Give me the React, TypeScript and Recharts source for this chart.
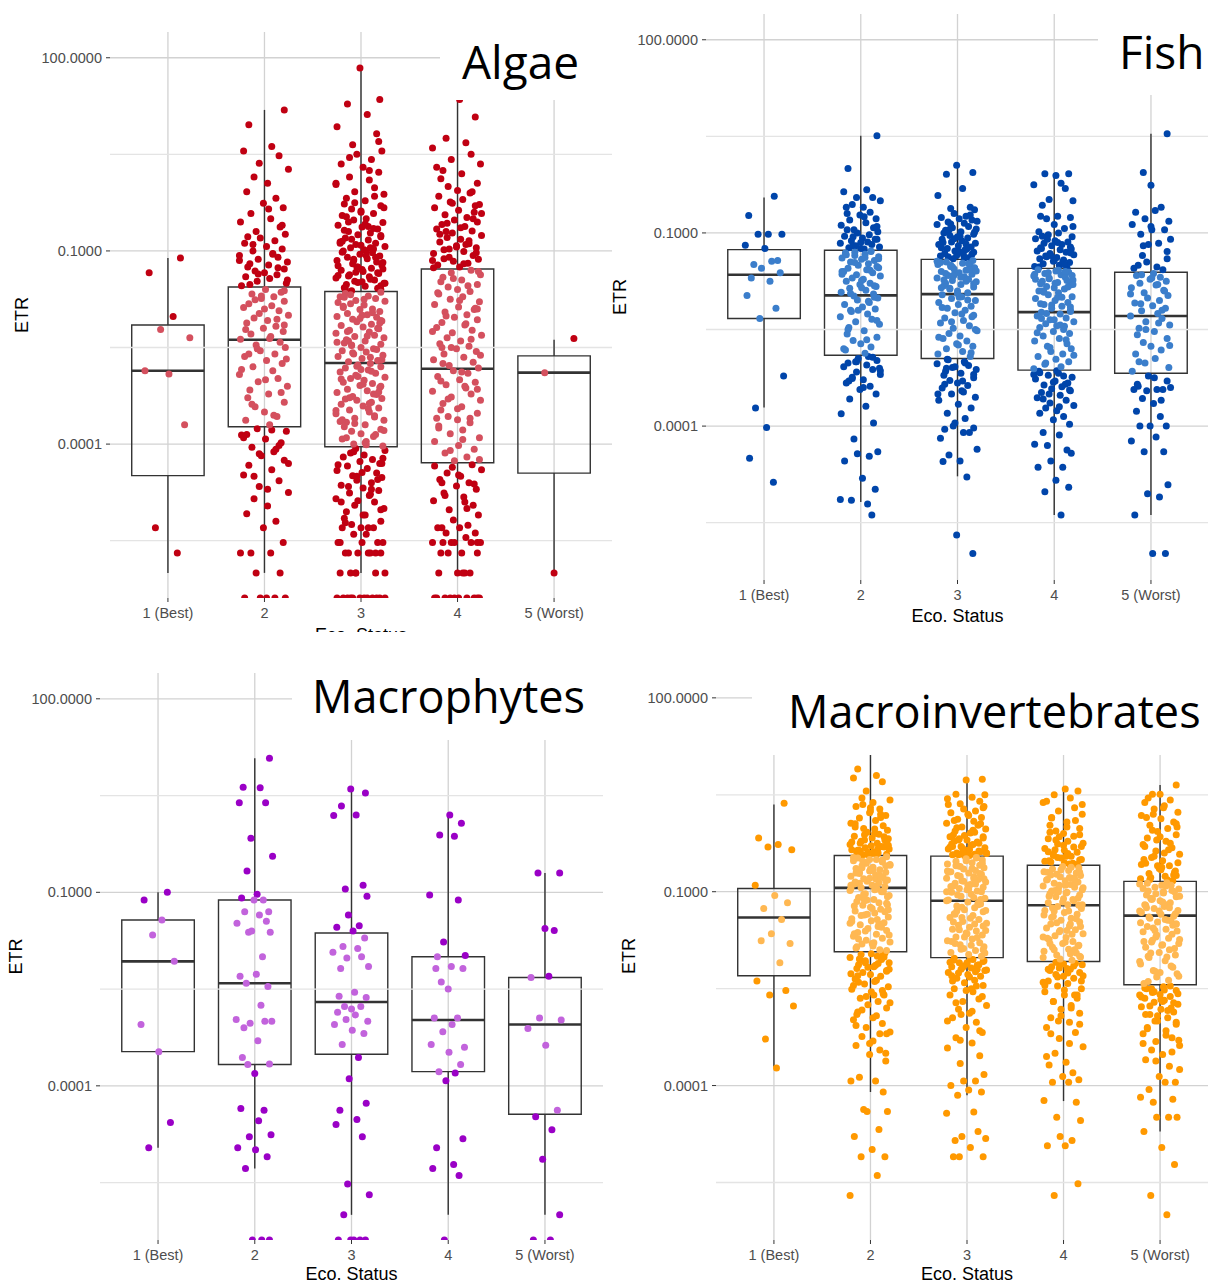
import React from "react";
import {
  CartesianGrid,
  ComposedChart,
  ReferenceArea,
  ReferenceLine,
  Scatter,
  XAxis,
  YAxis
} from "recharts";

// categories and axis ticks
const statusLabels = ["1 (Best)", "2", "3", "4", "5 (Worst)"];
const statusTicks = [1, 2, 3, 4, 5];
const yTicks = [2, -1, -4]; // log10 of 100, 0.1, 0.0001
const minorLines = [0.5, -2.5, -5.5];
const Y_MIN = -6.39;
const Y_MAX = 2.4;

// hand-picked horizontal jitter (in category units)
const jitter = [
  0.12, -0.18, 0.05, -0.07, 0.21, -0.22, 0.01, 0.16, -0.12, 0.09, -0.03, 0.19, -0.15, 0.07, -0.2, 0.14,
  -0.05, 0.23, -0.1, 0.03, -0.17, 0.11, -0.01, 0.18, -0.13, 0.06, -0.23, 0.15, -0.08, 0.2, -0.04, 0.1,
  -0.19, 0.02, 0.17, -0.11, 0.08, -0.24, 0.13, -0.06, 0.22, -0.14, 0.04, -0.16, 0.19, -0.09, 0.0
];

// ---- ETR values, stored as log10(ETR) ----

// Algae
const algae1 = [-1.11, -1.34, -2.02, -2.22, -2.35, -2.86, -2.91, -3.7, -5.3, -5.69];
const algae2 = [
  1.19, 0.96, 0.62, 0.55, 0.48, 0.36, 0.27, 0.15, 0.05, -0.08, -0.18, -0.26, -0.33, -0.42, -0.5, -0.55,
  -0.63, -0.7, -0.74, -0.8, -0.84, -0.88, -0.93, -0.97, -1.0, -1.04, -1.07, -1.1, -1.13, -1.17, -1.2,
  -1.22, -1.25, -1.28, -1.31, -1.34, -1.37, -1.4, -1.43, -1.47, -1.5, -1.54,
  -1.6, -1.64, -1.67, -1.71, -1.74, -1.78, -1.82, -1.85, -1.88, -1.93, -1.97, -2.0, -2.04, -2.08, -2.12,
  -2.17, -2.2, -2.25, -2.29, -2.33, -2.37, -2.42, -2.46, -2.5, -2.55, -2.6, -2.64, -2.7, -2.75, -2.8,
  -2.86, -2.92, -2.98, -3.03, -3.1, -3.16, -3.22, -3.28, -3.35, -3.42, -3.5, -3.57, -3.63, -3.7,
  -3.76, -3.8, -3.86, -3.92, -3.98, -4.05, -4.12, -4.18, -4.25, -4.33, -4.4, -4.48, -4.57, -4.66, -4.75,
  -4.85, -4.96, -5.08, -5.2, -5.3, -5.53, -5.69, -5.69, -5.69, -6.0, -6.0, -6.39, -6.39, -6.39, -6.39, -6.39,
  -0.6, -0.9, -1.05, -1.15, -1.26, -1.36, -1.45, -1.52, -0.35, -0.78, -1.62, -1.76, -1.9, -2.06, -2.22,
  -2.36, -2.52, -2.68, -2.84, -3.0, -3.2, -3.38, -3.55, -1.7, -2.15, -2.6, -3.78, -3.9, -4.02, -4.15, -4.3,
  -4.5, -4.7, -3.85, -4.08
];
const algae3 = [
  1.84, 1.35, 1.28, 1.12, 0.93, 0.82, 0.65, 0.55, 0.5, 0.42, 0.35, 0.3, 0.22, 0.15, 0.1, 0.03, -0.02,
  -0.08, -0.12, -0.18, -0.22, -0.27, -0.3, -0.35, -0.38, -0.42, -0.45, -0.5, -0.52, -0.56, -0.6, -0.63,
  -0.66, -0.7, -0.72, -0.75, -0.78, -0.8, -0.83, -0.86, -0.88, -0.9, -0.93, -0.95, -0.98, -1.0, -1.03,
  -1.05, -1.08, -1.1, -1.12, -1.15, -1.17, -1.2, -1.22, -1.25, -1.27, -1.3, -1.32, -1.35, -1.37, -1.4,
  -1.42, -1.45, -1.47, -1.5, -1.52, -1.55, -1.57, -1.6, -1.62, -0.4, -0.65, -0.85, -1.0, -1.15, -1.28,
  -1.38, -1.48, -1.58, -0.55, -0.95, -1.25,
  -1.64, -1.66, -1.7, -1.71, -1.74, -1.77, -1.78, -1.82, -1.84, -1.86, -1.9, -1.91, -1.94, -1.97, -1.99,
  -2.02, -2.03, -2.06, -2.09, -2.1, -2.14, -2.16, -2.18, -2.21, -2.23, -2.26, -2.28, -2.31, -2.33, -2.35,
  -2.38, -2.4, -2.43, -2.45, -2.47, -2.5, -2.52, -2.55, -2.57, -2.6, -2.62, -2.64, -2.67, -2.7, -2.72,
  -2.75, -2.77, -2.8, -2.82, -2.85, -2.88, -2.9, -2.93, -2.96, -2.98, -3.01, -3.04, -3.06, -3.09, -3.12,
  -3.15, -3.17, -3.2, -3.23, -3.26, -3.29, -3.32, -3.35, -3.38, -3.41, -3.44, -3.47, -3.5, -3.53, -3.56,
  -3.6, -3.63, -3.66, -3.7, -3.73, -3.77, -3.8, -3.84, -3.88, -3.92, -3.96, -4.0, -4.03, -1.8, -2.0, -2.2,
  -2.4, -2.65, -2.95, -3.1, -3.3, -3.45, -3.65, -3.85,
  -4.07, -4.1, -4.14, -4.17, -4.2, -4.24, -4.27, -4.3, -4.34, -4.38, -4.41, -4.45, -4.49, -4.52, -4.56,
  -4.6, -4.64, -4.68, -4.72, -4.76, -4.8, -4.85, -4.9, -4.95, -5.0, -5.05, -5.1, -5.15, -5.2, -5.25, -5.3,
  -5.3, -5.3, -5.4, -5.4, -5.53, -5.53, -5.53, -5.53, -5.69, -5.69, -5.69, -5.69, -5.69, -5.69, -6.0,
  -6.0, -6.0, -6.0, -6.0, -6.39, -6.39, -6.39, -6.39, -6.39, -6.39, -6.39, -6.39, -6.39, -6.39, -4.3,
  -4.5, -4.7, -4.9, -5.1,
  0.7, 0.45, 0.25, 0.05, -0.15, -0.25, -0.33, -0.47, -0.58, -0.68, -0.76, -0.82, -0.91, -0.97, -1.02,
  -1.07, -1.13, -1.18, -1.23, -1.29, -1.34, -1.39, -1.44, -1.49, -1.54, -1.59, -0.62, -0.88, -1.1, -1.33,
  -1.5, -1.68, -1.75, -1.88, -1.96, -2.05, -2.12, -2.25, -2.32, -2.42, -2.53, -2.58, -2.69, -2.79, -2.87,
  -2.99, -3.07, -3.19, -3.28, -3.37, -3.48, -3.58, -3.68, -3.79, -3.9, -3.98, -1.72, -2.08, -2.46, -2.84,
  -3.22, -3.62, -4.01, -4.12, -4.22, -4.32, -4.44, -4.55, -4.66, -4.78, -4.88, -5.02, -5.22, -5.3, -5.53,
  -5.69, -6.0, -6.39, -6.39
];
const algae4 = [
  1.35, 1.08, 0.75, 0.68, 0.6, 0.5, 0.42, 0.35, 0.25, 0.2, 0.12, 0.05, 0.0, -0.06, -0.1, -0.15, -0.2,
  -0.24, -0.28, -0.33, -0.37, -0.4, -0.44, -0.48, -0.52, -0.55, -0.59, -0.62, -0.66, -0.69, -0.72, -0.76,
  -0.79, -0.82, -0.86, -0.89, -0.92, -0.95, -0.98, -1.01, -1.04, -1.07, -1.1, -1.13, -1.16, -1.19, -1.22,
  -1.25, -0.3, -0.7, -0.9, -1.15,
  -1.3, -1.34, -1.37, -1.41, -1.45, -1.48, -1.52, -1.56, -1.6, -1.63, -1.67, -1.71, -1.75, -1.79, -1.83,
  -1.87, -1.91, -1.95, -1.99, -2.03, -2.07, -2.11, -2.15, -2.19, -2.23, -2.27, -2.31, -2.35, -2.4, -2.44,
  -2.48, -2.52, -2.56, -2.6, -2.65, -2.69, -2.73, -2.78, -2.82, -2.86, -2.9, -2.95, -3.0, -3.04, -3.08,
  -3.13, -3.18, -3.22, -3.27, -3.32, -3.37, -3.42, -3.47, -3.52, -3.57, -3.62, -3.67, -3.72, -3.78, -3.84,
  -3.9, -3.96, -4.02, -4.08, -4.14, -4.2, -4.26, -1.9, -2.5, -3.1, -3.6,
  -4.32, -4.36, -4.4, -4.45, -4.5, -4.55, -4.6, -4.65, -4.7, -4.76, -4.82, -4.88, -4.95, -5.02, -5.1,
  -5.18, -5.26, -5.3, -5.3, -5.38, -5.38, -5.45, -5.53, -5.53, -5.53, -5.53, -5.53, -5.69, -5.69, -5.69,
  -5.69, -6.0, -6.0, -6.0, -6.0, -6.39, -6.39, -6.39, -6.39, -6.39, -6.39, -6.39, -6.39, -6.39, -4.6, -4.9,
  0.3, -0.08, -0.26, -0.42, -0.57, -0.64, -0.74, -0.84, -0.94, -1.03, -1.12, -1.2, -1.26, -0.5, -0.97,
  -1.32, -1.43, -1.54, -1.65, -1.77, -1.89, -2.01, -2.13, -2.25, -2.37, -2.5, -2.62, -2.75, -2.88, -3.02,
  -3.15, -3.3, -3.45, -3.6, -3.75, -3.93, -4.1, -4.24, -4.34, -4.48, -4.62, -4.8, -5.0, -5.53, -5.53,
  -5.3, -6.0, -6.39
];
const algae5 = [-2.36, -2.89, -6.0];
// [lower whisker, Q1, median, Q3, upper whisker]
const algaeBox = [
  [-6.0, -4.49, -2.86, -2.15, -1.11],
  [-6.0, -3.73, -2.38, -1.56, 1.19],
  [-6.0, -4.04, -2.74, -1.63, 1.84],
  [-6.0, -4.29, -2.83, -1.28, 1.32],
  [-6.0, -4.45, -2.89, -2.63, -2.38]
];

// Fish
const fish1 = [
  -0.43, -0.73, -1.02, -1.02, -1.02, -1.19, -1.24, -1.43, -1.49, -1.44, -1.55, -1.62, -1.7, -1.75, -1.97,
  -2.17, -2.33, -3.22, -3.72, -4.02, -4.5, -4.87
];
const fish2 = [
  0.51, 0.0, -0.33, -0.36, -0.45, -0.45, -0.5, -0.56, -0.6, -0.6, -0.68, -0.72, -0.78, -0.8, -0.84, -0.88,
  -0.92, -0.95, -0.98, -1.0, -1.03, -1.05, -1.08, -1.1, -1.12, -1.14, -1.16, -1.18, -1.2, -1.22, -1.23,
  -1.25, -0.7, -0.9, -1.06, -1.15,
  -1.29, -1.31, -1.33, -1.35, -1.37, -1.39, -1.41, -1.43, -1.45, -1.48, -1.5, -1.52, -1.55, -1.57, -1.6,
  -1.62, -1.65, -1.67, -1.7, -1.72, -1.75, -1.78, -1.8, -1.83, -1.86, -1.89, -1.92, -1.95, -1.98, -2.01,
  -2.04, -2.08, -2.11, -2.15, -2.18, -2.22, -2.26, -2.3, -2.34, -2.38, -2.42, -2.47, -2.52, -2.57, -2.62,
  -2.67, -2.72, -2.77, -2.82, -2.87, -1.3, -1.4, -1.6, -1.85, -2.0, -2.2,
  -2.92, -2.95, -2.98, -3.02, -3.05, -3.08, -3.12, -3.16, -3.2, -3.24, -3.28, -3.33, -3.38, -3.43, -3.5,
  -3.58, -3.69, -3.81, -3.95, -4.2, -4.4, -4.43, -4.47, -4.54, -4.81, -4.98, -5.15, -5.21, -5.14, -5.38,
  -3.0, -3.1, -3.3,
  -0.75, -0.95, -1.1, -1.2, -1.24, -1.28, -1.32, -1.38, -1.46, -1.54, -1.64, -1.74, -1.82, -1.94, -2.06,
  -2.2, -2.36, -2.5, -2.66, -2.8, -2.93, -3.0, -3.14, -3.26, -3.4, -1.34, -1.58
];
const fish3 = [
  0.05, -0.06, -0.09, -0.31, -0.42, -0.6, -0.62, -0.64, -0.7, -0.74, -0.76, -0.78, -0.8, -0.83, -0.85,
  -0.87, -0.9, -0.92, -0.94, -0.96, -0.98, -1.0, -1.02, -1.04, -1.06, -1.08, -1.1, -1.12, -1.14, -1.16,
  -1.18, -1.2, -1.22, -1.24, -1.26, -1.28, -1.3, -1.32, -1.34, -1.36, -1.38, -1.4, -0.82, -0.95, -1.05,
  -1.15, -1.25, -1.35,
  -1.43, -1.45, -1.47, -1.49, -1.5, -1.52, -1.54, -1.56, -1.58, -1.6, -1.62, -1.64, -1.66, -1.68, -1.7,
  -1.72, -1.74, -1.76, -1.78, -1.8, -1.82, -1.84, -1.87, -1.9, -1.93, -1.96, -1.99, -2.02, -2.05, -2.08,
  -2.11, -2.14, -2.17, -2.2, -2.24, -2.28, -2.32, -2.36, -2.4, -2.44, -2.48, -2.52, -2.56, -2.6, -2.64,
  -2.68, -2.72, -2.76, -2.8, -2.84, -2.88, -2.92, -1.5, -1.55, -1.65, -1.75, -1.85, -2.0, -2.3,
  -2.97, -3.0, -3.03, -3.06, -3.09, -3.12, -3.15, -3.18, -3.21, -3.25, -3.29, -3.33, -3.37, -3.41, -3.45,
  -3.5, -3.55, -3.6, -3.66, -3.72, -3.8, -3.88, -3.95, -4.03, -4.05, -4.1, -4.19, -4.1, -4.0, -4.36, -4.45,
  -4.54, -4.55, -4.79, -5.69, -5.98, -3.1, -3.3, -3.5,
  -0.72, -0.86, -0.99, -1.09, -1.17, -1.23, -1.29, -1.33, -1.37, -1.39, -1.44, -1.48, -1.53, -1.59, -1.63,
  -1.69, -1.73, -1.79, -1.86, -1.94, -2.04, -2.16, -2.26, -2.38, -2.5, -2.62, -2.74, -2.86, -2.96, -3.02,
  -3.08, -3.2, -3.35, -3.47, -1.46, -1.57, -1.67
];
const fish4 = [
  -0.11, -0.08, -0.08, -0.23, -0.25, -0.31, -0.48, -0.5, -0.57, -0.74, -0.74, -0.76, -0.78, -0.87, -0.93,
  -0.98, -1.0, -1.03, -1.06, -1.09, -1.12, -1.14, -1.16, -1.18, -1.2, -1.22, -1.24, -1.26, -1.28, -1.3,
  -1.32, -1.34, -1.36, -1.38, -1.4, -1.42, -1.44, -1.46, -1.48, -1.5, -1.52, -1.54, -1.1, -1.25, -1.35,
  -1.45,
  -1.57, -1.59, -1.61, -1.63, -1.65, -1.67, -1.69, -1.71, -1.73, -1.75, -1.77, -1.79, -1.81, -1.83, -1.85,
  -1.87, -1.9, -1.93, -1.96, -1.99, -2.02, -2.05, -2.08, -2.11, -2.14, -2.17, -2.2, -2.23, -2.26, -2.29,
  -2.32, -2.35, -2.38, -2.41, -2.44, -2.47, -2.5, -2.53, -2.56, -2.6, -2.64, -2.68, -2.72, -2.76, -2.8,
  -2.84, -2.88, -2.92, -2.96, -3.0, -3.04, -3.08, -3.11, -1.6, -1.7, -1.8, -1.9, -2.0, -2.1, -2.15, -2.25,
  -2.35, -2.45,
  -3.15, -3.18, -3.21, -3.24, -3.27, -3.3, -3.33, -3.36, -3.39, -3.42, -3.45, -3.48, -3.52, -3.56, -3.6,
  -3.64, -3.68, -3.72, -3.76, -3.8, -3.85, -3.9, -3.97, -4.1, -4.14, -4.28, -4.37, -4.3, -4.42, -4.54,
  -4.64, -4.64, -4.84, -4.95, -5.02, -5.38, -3.2, -3.35, -3.5,
  -0.9, -1.05, -1.15, -1.23, -1.31, -1.37, -1.43, -1.49, -1.53, -1.58, -1.62, -1.66, -1.72, -1.78, -1.84,
  -1.92, -2.0, -2.12, -2.22, -2.33, -2.43, -2.55, -2.66, -2.78, -2.9, -3.02, -3.14, -3.17, -3.22, -3.32,
  -3.44, -3.58, -3.7, -1.64, -1.74
];
const fish5 = [
  0.54, -0.06, -0.26, -0.6, -0.68, -0.65, -0.78, -0.82, -0.87, -0.95, -0.95, -1.02, -1.16, -1.18, -1.29,
  -1.5, -1.53, -1.55, -1.57, -1.45, -1.1, -1.35,
  -1.63, -1.66, -1.69, -1.72, -1.75, -1.78, -1.81, -1.85, -1.89, -1.93, -1.97, -2.01, -2.05, -2.09, -2.13,
  -2.17, -2.21, -2.25, -2.29, -2.33, -2.38, -2.43, -2.48, -2.53, -2.58, -2.64, -2.7, -2.76, -2.82, -2.88,
  -2.95, -3.02, -3.09, -3.15, -1.7, -1.9, -2.1, -2.4,
  -3.22, -3.3, -3.38, -3.43, -3.43, -3.43, -3.45, -3.4, -3.57, -3.65, -3.77, -3.85, -4.0, -4.0, -4.0,
  -4.17, -4.23, -4.4, -4.4, -4.91, -5.05, -5.1, -5.38, -5.98, -5.98,
  -1.65, -1.8, -1.95, -2.2, -2.5, -2.75, -3.0, -3.25, -3.35, -1.4, -1.2, -0.9, -3.6
];
const fishBox = [
  [-3.71, -2.33, -1.65, -1.26, -0.45],
  [-5.18, -2.9, -1.97, -1.27, 0.51],
  [-4.78, -2.95, -1.95, -1.41, 0.05],
  [-5.38, -3.13, -2.23, -1.55, -0.08],
  [-5.38, -3.18, -2.29, -1.61, 0.54]
];

// Macrophytes
const macro1 = [-1.0, -1.12, -1.43, -1.66, -2.07, -3.05, -3.47, -4.57, -4.96];
const macro2 = [
  1.08, 0.63, 0.62, 0.39, 0.39, -0.16, -0.44, -0.67, -1.03, -1.09, -1.12, -1.12, -1.3, -1.3, -1.35, -1.48,
  -1.45, -1.62, -1.62, -1.6, -2.0, -2.3, -2.27, -2.46, -2.41, -2.75, -2.97, -3.0, -3.03, -3.0, -3.1, -3.3,
  -3.56, -3.66, -3.67, -3.81, -4.38, -4.35, -4.54, -4.79, -4.76, -4.96, -4.99, -5.1, -5.28, -6.39, -6.39,
  -6.39
];
const macro3 = [
  0.6, 0.54, 0.34, 0.2, 0.19, -0.89, -0.95, -1.06, -1.35, -1.52, -1.54, -1.6, -1.71, -1.84, -1.87, -1.93,
  -2.0, -2.02, -2.15, -2.18, -2.55, -2.61, -2.63, -2.77, -2.81, -2.77, -2.86, -2.9, -2.97, -3.0, -3.05,
  -3.14, -3.19, -3.36, -3.56, -3.89, -4.27, -4.38, -4.52, -4.6, -4.79, -5.52, -5.69, -6.0, -6.39, -6.39,
  -6.39, -6.39, -6.39
];
const macro4 = [
  0.2, 0.07, -0.11, -0.13, -1.04, -1.12, -1.77, -1.98, -2.0, -2.15, -2.18, -2.18, -2.39, -2.5, -2.95,
  -2.95, -3.05, -3.16, -3.4, -3.36, -3.48, -3.67, -3.78, -3.8, -3.92, -4.82, -4.96, -5.22, -5.28, -5.39,
  -6.39
];
const macro5 = [
  -0.7, -0.7, -1.56, -1.59, -2.32, -2.3, -2.95, -2.98, -3.11, -3.37, -4.38, -4.48, -4.68, -5.14, -6.0,
  -6.39, -6.39
];
const macroBox = [
  [-4.96, -3.47, -2.07, -1.43, -1.0],
  [-5.28, -3.67, -2.41, -1.12, 1.08],
  [-6.0, -3.51, -2.7, -1.63, 0.59],
  [-6.0, -3.78, -2.98, -2.0, 0.2],
  [-6.0, -4.44, -3.05, -2.32, -0.7]
];

// Macroinvertebrates
const inv1 = [
  0.37, -0.17, -0.27, -0.31, -0.35, -0.9, -1.06, -1.17, -1.26, -1.43, -1.65, -1.8, -1.76, -2.1, -2.38,
  -2.53, -2.6, -2.77, -3.28, -3.73
];
const inv2 = [
  1.17, 0.9, 0.8, 0.76, 0.7, 0.56, 0.42, 0.45, 0.38, 0.32, 0.28, 0.22, 0.18, 0.14, 0.1, 0.06, 0.02, -0.02,
  -0.05, -0.08, -0.11, -0.14, -0.17, -0.2, -0.22, -0.25, -0.27, -0.3, -0.32, -0.34, -0.36, -0.38, -0.4,
  -0.42, -0.43, 0.3, 0.2, 0.0, -0.1, -0.2, -0.28, -0.35, -0.41, -0.15, -0.25, -0.33, -0.39,
  -0.46, -0.48, -0.5, -0.52, -0.54, -0.56, -0.58, -0.6, -0.62, -0.64, -0.66, -0.68, -0.7, -0.72, -0.74,
  -0.76, -0.78, -0.8, -0.82, -0.84, -0.86, -0.88, -0.9, -0.92, -0.94, -0.96, -0.98, -1.0, -1.03, -1.06,
  -1.09, -1.12, -1.15, -1.18, -1.21, -1.24, -1.27, -1.3, -1.33, -1.36, -1.39, -1.42, -1.45, -1.48, -1.51,
  -1.54, -1.57, -1.6, -1.63, -1.66, -1.69, -1.72, -1.75, -1.78, -1.81, -1.84, -1.87, -1.9, -0.5, -0.6,
  -0.7, -0.8, -0.9, -1.0, -1.1, -1.2, -1.35, -1.5, -1.65, -1.8,
  -1.95, -1.97, -2.0, -2.02, -2.05, -2.07, -2.1, -2.13, -2.16, -2.19, -2.22, -2.25, -2.28, -2.31, -2.35,
  -2.39, -2.43, -2.47, -2.51, -2.55, -2.6, -2.65, -2.7, -2.75, -2.8, -2.86, -2.92, -2.98, -3.04, -3.1,
  -3.17, -3.24, -3.31, -3.38, -3.45, -3.52, -3.62, -3.87, -3.93, -3.93, -4.1, -4.37, -4.4, -4.4, -4.68,
  -4.79, -4.99, -5.1, -5.1, -5.39, -5.7, -2.0, -2.1, -2.2, -2.4, -2.6, -2.9, -3.2,
  0.35, 0.25, 0.15, 0.05, -0.03, -0.12, -0.18, -0.23, -0.29, -0.31, -0.37, -0.4, -0.43, -0.26, -0.36,
  -0.42, -0.47, -0.51, -0.55, -0.59, -0.63, -0.67, -0.71, -0.75, -0.79, -0.83, -0.87, -0.91, -0.95, -0.99,
  -1.04, -1.08, -1.13, -1.17, -1.22, -1.26, -1.31, -1.37, -1.43, -1.49, -1.55, -1.61, -1.67, -1.73, -1.79,
  -1.85, -1.91, -0.53, -0.65, -0.77, -0.85, -0.97, -1.14, -1.28, -1.46, -1.96, -2.01, -2.06, -2.11, -2.17,
  -2.23, -2.3, -2.37, -2.45, -2.53, -2.62, -2.72, -2.83, -2.95, -3.07, -3.2, -3.35, -3.5, -2.04, -2.14,
  -2.27, -2.58
];
const inv3 = [
  0.73, 0.74, 0.51, 0.46, 0.44, 0.4, 0.36, 0.32, 0.28, 0.25, 0.22, 0.18, 0.15, 0.12, 0.09, 0.06, 0.03, 0.0,
  -0.03, -0.06, -0.09, -0.12, -0.15, -0.18, -0.2, -0.23, -0.26, -0.28, -0.3, -0.32, -0.34, -0.36, -0.38,
  -0.4, -0.42, -0.44, 0.3, 0.1, -0.05, -0.15, -0.25, -0.33, -0.4, -0.2, -0.35, -0.43,
  -0.47, -0.49, -0.51, -0.53, -0.55, -0.57, -0.59, -0.61, -0.63, -0.65, -0.67, -0.69, -0.71, -0.73, -0.75,
  -0.77, -0.79, -0.81, -0.83, -0.85, -0.87, -0.89, -0.91, -0.93, -0.95, -0.97, -0.99, -1.01, -1.04, -1.07,
  -1.1, -1.13, -1.16, -1.19, -1.22, -1.25, -1.28, -1.31, -1.34, -1.37, -1.4, -1.43, -1.46, -1.49, -1.52,
  -1.55, -1.58, -1.61, -1.64, -1.67, -1.7, -1.73, -1.76, -1.79, -1.82, -1.85, -1.88, -1.91, -1.94, -1.97,
  -2.0, -0.6, -0.8, -1.0, -1.2, -1.4, -1.6, -1.8,
  -2.04, -2.06, -2.08, -2.1, -2.12, -2.14, -2.16, -2.18, -2.2, -2.22, -2.25, -2.28, -2.31, -2.34, -2.37,
  -2.41, -2.45, -2.5, -2.55, -2.6, -2.66, -2.7, -2.76, -2.82, -2.88, -2.95, -3.02, -3.1, -3.18, -3.26,
  -3.34, -3.42, -3.54, -3.66, -3.83, -3.93, -3.93, -4.0, -4.07, -4.1, -4.15, -4.41, -4.43, -4.71, -4.79,
  -4.82, -4.85, -4.96, -5.1, -5.1, -5.1, -2.1, -2.2, -2.3, -2.5, -2.9,
  0.5, 0.35, 0.2, 0.05, -0.01, -0.08, -0.13, -0.17, -0.22, -0.27, -0.31, -0.37, -0.39, -0.41, -0.43,
  -0.44, -0.3, -0.48, -0.52, -0.56, -0.6, -0.64, -0.68, -0.72, -0.76, -0.8, -0.84, -0.88, -0.92, -0.96,
  -1.0, -1.05, -1.09, -1.14, -1.18, -1.24, -1.29, -1.35, -1.41, -1.47, -1.53, -1.59, -1.65, -1.71, -1.77,
  -1.83, -1.89, -1.95, -0.7, -0.9, -1.12, -1.3, -1.5, -1.7, -1.9, -2.03, -2.05, -2.09, -2.13, -2.17,
  -2.21, -2.26, -2.32, -2.38, -2.46, -2.53, -2.62, -2.72, -2.85, -3.0, -3.15, -3.3, -2.07, -2.15, -2.24
];
const inv4 = [
  0.59, 0.56, 0.5, 0.45, 0.38, 0.3, 0.25, 0.2, 0.14, 0.08, 0.03, -0.02, -0.06, -0.1, -0.14, -0.18, -0.22,
  -0.26, -0.3, -0.33, -0.36, -0.39, -0.42, -0.45, -0.48, -0.51, -0.54, -0.57, 0.4, 0.1, -0.15, -0.25,
  -0.35, -0.45, -0.52, -0.56,
  -0.61, -0.63, -0.65, -0.67, -0.69, -0.71, -0.73, -0.75, -0.77, -0.79, -0.81, -0.83, -0.85, -0.87, -0.89,
  -0.91, -0.93, -0.95, -0.97, -0.99, -1.01, -1.03, -1.05, -1.08, -1.11, -1.14, -1.17, -1.2, -1.23, -1.26,
  -1.29, -1.32, -1.35, -1.38, -1.41, -1.44, -1.47, -1.5, -1.53, -1.56, -1.59, -1.62, -1.65, -1.68, -1.71,
  -1.74, -1.77, -1.8, -1.83, -1.86, -1.89, -1.92, -1.95, -1.98, -2.01, -2.04, -2.06, -0.7, -0.9, -1.1,
  -1.3, -1.5, -1.7, -1.9,
  -2.1, -2.13, -2.16, -2.19, -2.22, -2.25, -2.28, -2.31, -2.34, -2.38, -2.42, -2.46, -2.5, -2.55, -2.6,
  -2.65, -2.7, -2.76, -2.82, -2.88, -2.95, -3.02, -3.1, -3.18, -3.27, -3.4, -3.5, -3.64, -3.68, -3.8,
  -3.86, -3.91, -3.95, -3.95, -4.23, -4.26, -4.49, -4.54, -4.79, -4.85, -4.93, -4.93, -5.52, -5.7, -2.2,
  -2.4, -2.6, -3.0,
  0.35, 0.15, 0.0, -0.08, -0.12, -0.2, -0.28, -0.31, -0.38, -0.41, -0.47, -0.5, -0.53, -0.55, -0.58,
  -0.44, -0.62, -0.66, -0.7, -0.74, -0.78, -0.82, -0.86, -0.9, -0.94, -0.98, -1.02, -1.07, -1.12, -1.16,
  -1.21, -1.25, -1.3, -1.36, -1.42, -1.48, -1.54, -1.6, -1.66, -1.72, -1.78, -1.84, -1.9, -1.96, -2.02,
  -0.8, -1.0, -1.2, -1.4, -1.6, -1.8, -2.0, -2.09, -2.12, -2.15, -2.2, -2.26, -2.32, -2.38, -2.45, -2.52,
  -2.6, -2.7, -2.8, -2.92, -3.05, -3.2, -3.35, -3.55, -2.11, -2.18, -2.3
];
const inv5 = [
  0.65, 0.51, 0.51, 0.42, 0.38, 0.33, 0.28, 0.23, 0.18, 0.13, 0.08, 0.03, -0.02, -0.07, -0.12, -0.17,
  -0.22, -0.27, -0.32, -0.37, -0.42, -0.47, -0.52, -0.56, -0.6, -0.64, -0.68, -0.72, -0.76, -0.8, -0.83,
  0.2, 0.0, -0.2, -0.35, -0.5, -0.62, -0.7, -0.78,
  -0.86, -0.88, -0.9, -0.93, -0.96, -0.99, -1.02, -1.05, -1.08, -1.11, -1.14, -1.17, -1.2, -1.23, -1.26,
  -1.29, -1.32, -1.35, -1.38, -1.41, -1.44, -1.47, -1.5, -1.54, -1.58, -1.62, -1.66, -1.7, -1.74, -1.78,
  -1.82, -1.86, -1.9, -1.94, -1.98, -2.02, -2.07, -2.12, -2.17, -2.22, -2.27, -2.32, -2.37, -2.42, -0.9,
  -1.0, -1.1, -1.2, -1.3, -1.45, -1.6, -1.8, -2.0,
  -2.47, -2.5, -2.53, -2.56, -2.59, -2.62, -2.65, -2.68, -2.71, -2.74, -2.78, -2.82, -2.86, -2.9, -2.95,
  -3.0, -3.05, -3.1, -3.15, -3.2, -3.26, -3.32, -3.38, -3.45, -3.52, -3.6, -3.7, -3.86, -3.95, -4.06,
  -3.95, -4.18, -4.21, -4.26, -4.49, -4.49, -4.49, -4.71, -4.96, -5.22, -5.7, -6.0, -2.6, -2.8, -3.0, -3.3,
  0.45, 0.3, 0.15, 0.05, -0.05, -0.15, -0.25, -0.3, -0.4, -0.45, -0.55, -0.58, -0.66, -0.74, -0.81, -0.82,
  -0.6, -0.75, -0.87, -0.91, -0.95, -0.98, -1.03, -1.07, -1.12, -1.16, -1.21, -1.25, -1.3, -1.34, -1.39,
  -1.43, -1.48, -1.52, -1.56, -1.61, -1.67, -1.72, -1.77, -1.83, -1.88, -1.95, -2.01, -2.08, -2.15, -2.23,
  -2.31, -2.39, -1.0, -1.25, -1.5, -1.75, -2.25, -2.46, -2.49, -2.52, -2.55, -2.58, -2.63, -2.67, -2.72,
  -2.77, -2.84, -2.92, -3.02, -3.12, -3.22, -3.35, -3.48, -3.62, -3.75, -2.5, -2.7, -2.9
];
const invBox = [
  [-3.71, -2.3, -1.4, -0.95, 0.35],
  [-4.1, -1.93, -0.94, -0.44, 1.3],
  [-4.15, -2.02, -1.14, -0.45, 0.71],
  [-4.24, -2.08, -1.21, -0.59, 0.56],
  [-4.71, -2.44, -1.37, -0.84, 0.65]
];

const HALF_BOX = 0.375;

type Pt = { x: number; y: number };

function splitPoints(groups: number[][], box: number[][], spread: number) {
  const inner: Pt[] = [];
  const outer: Pt[] = [];
  groups.forEach((vals, gi) => {
    const [, q1, , q3] = box[gi];
    vals.forEach((v, i) => {
      const p = { x: gi + 1 + jitter[(i + gi * 11) % jitter.length] * spread, y: v };
      if (v >= q1 && v <= q3) inner.push(p);
      else outer.push(p);
    });
  });
  return { inner, outer };
}

const dot = (fill: string) => (props: any) => <circle cx={props.cx} cy={props.cy} r={3.5} fill={fill} />;

function Panel(p: {
  groups: number[][];
  box: number[][];
  dark: string;
  light: string;
  spread: number;
  width: number;
  height: number;
  margin: { top: number; right: number; bottom: number; left: number };
  yWidth: number;
  xHeight: number;
  etrOffset: number;
  ecoOffset: number;
}) {
  const { inner, outer } = splitPoints(p.groups, p.box, p.spread);
  const line = "#333333";
  return (
    <ComposedChart width={p.width} height={p.height} margin={p.margin}>
      <CartesianGrid stroke="#d2d2d2" strokeWidth={1.3} syncWithTicks />
      {minorLines.map((v) => (
        <ReferenceLine key={"m" + v} y={v} stroke="#e4e4e4" strokeWidth={1.3} />
      ))}
      <XAxis
        type="number"
        dataKey="x"
        domain={[0.4, 5.6]}
        ticks={statusTicks}
        interval={0}
        allowDataOverflow
        tickFormatter={(v) => statusLabels[Math.round(v) - 1]}
        height={p.xHeight}
        axisLine={false}
        tickSize={4}
        tickMargin={6}
        tickLine={{ stroke: line }}
        tick={{ fill: "#4d4d4d", fontSize: 14.5 }}
        label={{ value: "Eco. Status", position: "insideBottom", offset: p.ecoOffset, fill: "#000", fontSize: 18 }}
      />
      <YAxis
        type="number"
        dataKey="y"
        domain={[Y_MIN, Y_MAX]}
        ticks={yTicks}
        interval={0}
        allowDataOverflow
        tickFormatter={(v) => Math.pow(10, v).toFixed(4)}
        width={p.yWidth}
        axisLine={false}
        tickSize={4}
        tickMargin={4}
        tickLine={{ stroke: line }}
        tick={{ fill: "#4d4d4d", fontSize: 14.5 }}
        label={{
          value: "ETR",
          angle: -90,
          position: "insideLeft",
          offset: p.etrOffset,
          fill: "#000",
          fontSize: 18,
          style: { textAnchor: "middle" }
        }}
      />
      <Scatter data={outer} shape={dot(p.dark)} isAnimationActive={false} />
      <Scatter data={inner} shape={dot(p.light)} isAnimationActive={false} />
      {p.box.map(([lo, q1, med, q3, hi], gi) => {
        const g = gi + 1;
        return (
          <React.Fragment key={"b" + g}>
            <ReferenceLine segment={[{ x: g, y: q3 }, { x: g, y: hi }]} stroke={line} strokeWidth={1.4} />
            <ReferenceLine segment={[{ x: g, y: lo }, { x: g, y: q1 }]} stroke={line} strokeWidth={1.4} />
            <ReferenceArea
              x1={g - HALF_BOX}
              x2={g + HALF_BOX}
              y1={q1}
              y2={q3}
              fill="none"
              fillOpacity={0}
              stroke={line}
              strokeWidth={1.4}
            />
            <ReferenceLine
              segment={[{ x: g - HALF_BOX, y: med }, { x: g + HALF_BOX, y: med }]}
              stroke={line}
              strokeWidth={2.6}
            />
          </React.Fragment>
        );
      })}
    </ComposedChart>
  );
}

function Title({ text, box, left, top, size }: { text: string; box: number[]; left: number; top: number; size: number }) {
  return (
    <>
      <div style={{ position: "absolute", left: box[0], top: box[1], width: box[2], height: box[3], background: "#fff" }} />
      <div
        style={{
          position: "absolute",
          left,
          top,
          fontSize: size,
          lineHeight: 1,
          fontFamily: "'Open Sans', 'Noto Sans', sans-serif",
          color: "#000",
          whiteSpace: "nowrap"
        }}
      >
        {text}
      </div>
    </>
  );
}

export default function App() {
  return (
    <div
      style={{
        position: "absolute",
        left: 0,
        top: 0,
        width: 1208,
        height: 1285,
        overflow: "hidden",
        background: "#fff",
        fontFamily: "'Liberation Sans', Arial, sans-serif"
      }}
    >
      <div style={{ position: "absolute", left: 0, top: 0, width: 620, height: 632, overflow: "hidden" }}>
        <Panel
          groups={[algae1, algae2, algae3, algae4, algae5]}
          box={algaeBox}
          dark="#c00012"
          light="#d4505e"
          spread={1.08}
          width={620}
          height={650}
          margin={{ top: 32, right: 8, bottom: 0, left: 0 }}
          yWidth={110}
          xHeight={52}
          etrOffset={22}
          ecoOffset={9}
        />
      </div>
      <div style={{ position: "absolute", left: 600, top: 0, width: 612, height: 632 }}>
        <Panel
          groups={[fish1, fish2, fish3, fish4, fish5]}
          box={fishBox}
          dark="#0045aa"
          light="#3b7ecb"
          spread={0.88}
          width={612}
          height={630}
          margin={{ top: 14, right: 3, bottom: 0, left: 0 }}
          yWidth={106}
          xHeight={50}
          etrOffset={20}
          ecoOffset={8}
        />
      </div>
      <div style={{ position: "absolute", left: 0, top: 640, width: 610, height: 645 }}>
        <Panel
          groups={[macro1, macro2, macro3, macro4, macro5]}
          box={macroBox}
          dark="#9a00c6"
          light="#c263dc"
          spread={0.8}
          width={610}
          height={645}
          margin={{ top: 33, right: 7, bottom: 0, left: 0 }}
          yWidth={100}
          xHeight={45}
          etrOffset={16}
          ecoOffset={5}
        />
      </div>
      <div style={{ position: "absolute", left: 610, top: 640, width: 612, height: 645 }}>
        <Panel
          groups={[inv1, inv2, inv3, inv4, inv5]}
          box={invBox}
          dark="#ff9900"
          light="#ffb852"
          spread={0.88}
          width={612}
          height={645}
          margin={{ top: 32, right: 4, bottom: 0, left: 0 }}
          yWidth={106}
          xHeight={45}
          etrOffset={19}
          ecoOffset={5}
        />
      </div>
      <Title text="Algae" box={[440, 0, 180, 100]} left={462} top={38} size={46} />
      <Title text="Fish" box={[1098, 0, 110, 95]} left={1119} top={28} size={46} />
      <Title text="Macrophytes" box={[292, 645, 320, 95]} left={312} top={673} size={45} />
      <Title text="Macroinvertebrates" box={[752, 645, 456, 110]} left={788} top={688} size={45} />
    </div>
  );
}
